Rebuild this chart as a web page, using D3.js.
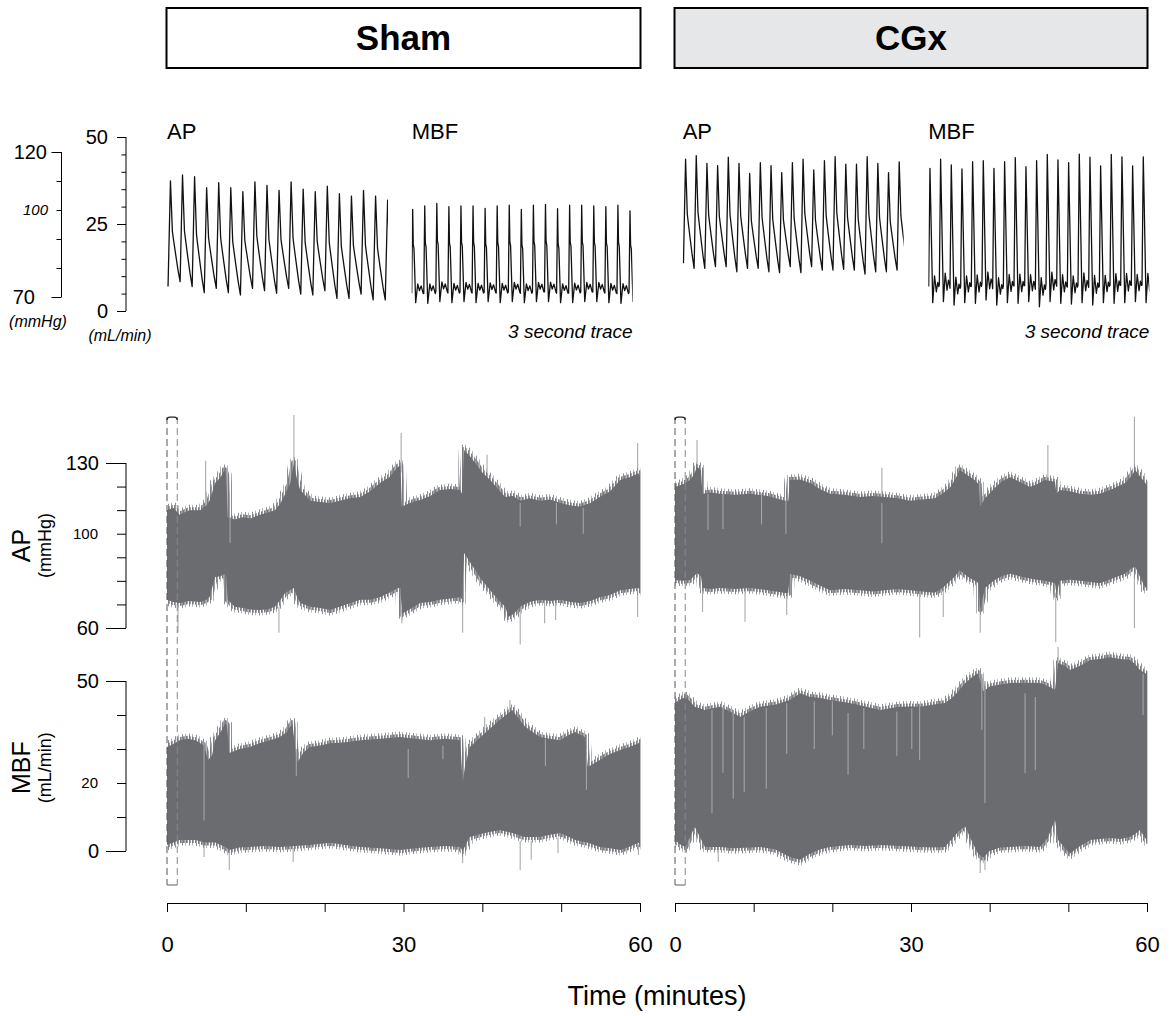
<!DOCTYPE html>
<html>
<head>
<meta charset="utf-8">
<script src="https://cdn.jsdelivr.net/npm/d3@7"></script>
<style>
  body { margin: 0; background: #fff; }
  svg { display: block; }
  text { font-family: "Liberation Sans", Arial, Helvetica, sans-serif; fill: #000; }
</style>
</head>
<body>
<svg id="chart"></svg>
<script>
const width = 1174;
const height = 1016;

// ---- 3 second traces: per-beat values ----
const shamApPeaks = [110.0, 112.1, 111.5, 107.7, 109.4, 107.7, 106.3, 109.7, 108.5, 106.8, 109.7, 107.2, 106.3, 108.2, 105.6, 104.8, 106.8, 104.8, 103.4];
const shamApTroughs = [73.6, 75.3, 73.6, 71.5, 73.0, 71.5, 70.7, 73.0, 72.2, 71.3, 73.0, 71.0, 70.7, 72.2, 69.5, 69.5, 71.0, 69.0, 69.0];
const shamMbfPeaks = [29.2, 30.2, 30.9, 30.0, 30.2, 30.2, 29.5, 30.2, 30.4, 29.2, 30.4, 30.6, 29.4, 30.4, 30.4, 30.2, 30.0, 30.4, 28.8];
const shamMbfMins = [2.4, 2.2, 2.7, 2.4, 2.7, 2.4, 2.7, 2.4, 2.7, 2.4, 2.7, 2.7, 2.4, 2.4, 2.7, 2.7, 2.4, 2.2, 2.7];
const cgxApPeaks = [117.5, 118.7, 116.1, 115.3, 118.2, 116.1, 112.6, 116.3, 115.3, 112.9, 116.3, 117.5, 113.8, 117.0, 118.4, 115.8, 115.8, 118.4, 116.1, 112.9, 116.6];
const cgxApTroughs = [81.6, 79.9, 79.9, 80.5, 80.5, 78.7, 79.9, 79.9, 78.7, 78.4, 80.5, 78.4, 80.5, 79.3, 79.3, 79.5, 79.3, 77.9, 78.7, 78.7, 79.3];
const cgxMbfPeaks = [41.0, 43.6, 42.0, 40.8, 42.9, 43.2, 41.0, 42.9, 44.1, 41.5, 43.2, 45.0, 43.4, 42.6, 45.1, 44.2, 41.7, 45.0, 44.3, 41.7, 44.3];
const cgxMbfMins = [2.4, 2.7, 1.7, 2.4, 2.2, 3.2, 1.7, 2.4, 2.2, 2.7, 1.2, 2.7, 2.2, 2.0, 2.4, 1.7, 2.4, 2.2, 2.4, 2.7, 2.4];

// beat shapes [phase, fraction of trough->peak]
const apBeatShape = [[0, 0], [0.2, 1], [0.27, 0.78], [0.36, 0.5], [0.45, 0.42], [0.62, 0.28], [0.82, 0.12]];
const shamMbfBeatShape = [[0, 0.1], [0.08, 1], [0.13, 0.62], [0.19, 0.58], [0.33, 0], [0.5, 0.2], [0.64, 0.13], [0.78, 0.18], [0.95, 0.1]];
const cgxMbfBeatShape = [[0, 0.12], [0.12, 1], [0.2, 0.7], [0.38, 0], [0.55, 0.2], [0.72, 0.08], [0.85, 0.15], [0.95, 0.12]];

// ---- 60 minute recordings: envelope breakpoints [minute, value] ----
const shamApHigh = [[0,110],[0.8,111],[1.6,108],[2.8,110],[4.2,110],[5.0,112],[5.4,114],[6.1,121.5],[6.8,124],[7.3,127],[7.5,125],[7.7,107],[8.6,106],[9.6,107],[10.6,106.5],[11.8,108],[12.8,109],[13.7,110],[14.4,113],[15.0,117],[15.6,121],[16.1,130],[16.5,123],[16.9,118.5],[18.2,114],[19.4,113.5],[20.7,113],[21.9,114],[23.2,115],[24.5,115.6],[25.8,118],[27.0,121.5],[28.2,124],[29.3,128.4],[29.6,129],[29.8,111.5],[30.8,113],[32.1,114.3],[33.4,116],[34.6,118.5],[36.0,119],[37.2,118.5],[37.4,117],[37.7,135.5],[38.4,133],[39.1,130],[40.0,126],[41.0,122.8],[42.0,119],[42.9,115.6],[43.9,116],[44.8,114],[46.0,115],[47.3,114],[48.6,114.5],[49.9,113],[51.2,112],[52.4,111.5],[53.7,113],[54.9,115.6],[56.2,118],[57.5,122.8],[58.7,124],[59.8,125.7],[60,124]];
const shamApLow = [[0,72],[0.8,71],[1.6,70.6],[2.8,71.5],[4.2,71],[5.0,72],[5.4,73],[6.1,81.6],[6.8,82],[7.3,83],[7.5,82],[7.7,72],[8.6,69],[9.6,68.5],[10.6,67.8],[11.8,67.6],[12.8,68],[13.7,69],[14.4,72],[15.0,75],[15.6,76],[16.1,77],[16.5,73],[16.9,70.6],[18.2,69],[19.4,68.5],[20.7,67.6],[21.9,69],[23.2,70.5],[24.5,72],[25.8,72],[27.0,73],[28.2,75],[29.3,77],[29.6,77],[29.8,66],[30.8,68],[32.1,70.6],[33.4,71],[34.6,72],[36.0,72.5],[37.2,73],[37.4,72],[37.7,91.8],[38.4,88],[39.1,84.6],[40.0,80],[41.0,76],[42.0,72],[42.9,69],[43.3,64.7],[44.0,66],[44.8,69],[46.0,71],[47.3,72],[48.6,71.5],[49.9,72],[51.2,71],[52.4,70.6],[53.7,71.5],[54.9,73],[56.2,74],[57.5,76],[58.7,76.5],[59.8,77],[60,76]];
const shamApStreaks = [[1.4,70,58],[4.9,112,131],[14.2,69,58],[16.1,128,150.4],[29.7,126,142.7],[29.8,68,62],[37.5,72,58],[40.6,124,133.5],[44.8,69,53],[47.9,71,62],[49.3,71,63.4],[59.7,124,138.5],[59.7,76,64.7],[8.0,107,96],[44.8,113,103],[49.4,113,104],[52.8,111,100]];

const shamMbfHigh = [[0,30.6],[0.8,31.5],[1.6,32.6],[2.6,33],[3.6,32.6],[4.7,31],[5.2,26.8],[5.7,28],[6.1,32.6],[6.8,35],[7.4,37.6],[7.6,37],[7.9,28.8],[9.2,30],[10.5,30.6],[11.8,31.8],[13.1,32.6],[14.3,33.5],[15.2,35],[15.9,37.6],[16.5,25.9],[17.3,29],[18.1,30.6],[19.4,31],[20.7,31.7],[22.6,32],[24.5,32.6],[27.0,33],[29.6,33.5],[31.5,33],[33.4,32.6],[35.3,33],[37.2,32.6],[37.5,20],[37.8,25],[38.4,30.6],[39.3,32.5],[40.3,34.6],[41.2,36.5],[42.2,38.5],[43.0,40],[43.8,41.5],[44.6,39],[45.4,36.6],[46.4,35],[47.3,33.5],[48.6,33],[49.9,32.6],[50.8,34],[51.8,35],[53.0,33.5],[53.4,24.7],[54.9,26.8],[56.2,28.5],[57.5,29.7],[58.6,30.5],[59.8,31.7],[60,32]];
const shamMbfLow = [[0,1.8],[1.6,3.2],[3.6,3.2],[4.8,2.5],[6.1,2.5],[7.4,1.2],[7.9,0.3],[9.2,1],[10.5,1.2],[12.4,1.5],[14.3,1.2],[16.2,1.5],[18.1,1.8],[20.7,2.4],[22.6,1.8],[24.5,1.2],[27.0,0.8],[29.6,0.3],[31.5,0.8],[33.4,1.2],[35.3,1.5],[37.2,1.2],[37.5,0],[38.4,4.1],[40.3,5.3],[42.2,6.2],[43.8,5.3],[45.4,4.1],[47.3,4.1],[48.6,4.8],[49.9,5.3],[51.8,3.2],[53.4,2.4],[54.9,1.2],[56.2,0.8],[57.5,0.3],[58.6,1.2],[59.8,2.4],[60,2]];
const shamMbfStreaks = [[4.7,3,-1.8],[7.9,0,-5.6],[16.0,1,-3.2],[37.5,0,-3.5],[44.8,3,-5.6],[46.2,3,-2.6],[49.6,4,-0.6],[59.8,2,-1.2],[43.5,40,44.4],[40.3,33,39.4],[4.7,32,9],[16.4,30,22],[30.6,30,21.5],[35.0,31,27],[48.0,33,25],[53.2,30,18]];

const cgxApHigh = [[0,119.8],[1.0,121],[1.9,122.8],[2.4,125],[2.8,128.4],[3.3,127],[3.5,117],[4.6,117.5],[5.7,117],[7.6,116.5],[9.5,117],[11.8,116],[14.0,114],[14.4,114],[14.6,122.8],[15.9,123],[17.2,121.5],[18.4,119],[19.7,117],[21.6,116.5],[23.5,115.6],[25.1,116],[26.7,115.6],[28.3,115],[29.9,114],[31.4,114.5],[33.0,115],[34.0,117],[35.0,119.8],[35.6,123],[36.2,127],[37.1,125],[38.1,122.8],[38.6,121],[38.8,111.5],[39.4,115],[40.5,119],[41.5,122],[42.6,124],[43.8,122],[45.1,119.8],[46.0,121],[47.0,122.8],[48.3,122],[48.5,117],[48.9,118.5],[50.2,118],[51.5,117],[52.8,116.5],[54.0,117],[55.6,119],[57.2,121.5],[57.9,124],[58.5,127],[59.2,124],[59.8,121.5],[60,120]];
const cgxApLow = [[0,80.4],[1.0,80],[1.9,80.4],[2.4,82],[2.8,83.3],[3.3,82],[3.5,77],[4.6,76.5],[5.7,77],[7.6,76.5],[9.5,77],[11.8,76],[14.0,74.8],[14.4,74.8],[14.6,83],[15.9,82],[17.2,80],[18.4,78],[19.7,76],[21.6,76.5],[23.5,76],[25.1,75.5],[26.7,76],[28.3,76.5],[29.9,76],[31.4,75.5],[33.0,75],[34.0,77],[35.0,80],[35.6,82],[36.2,84.6],[37.1,82],[38.1,80],[38.6,79],[38.8,68],[39.4,77],[40.5,80],[41.5,82],[42.6,83],[43.8,82],[45.1,81],[46.0,80.5],[47.0,80],[48.3,79],[48.5,74],[48.9,80],[50.2,80.5],[51.5,80],[52.8,79.5],[54.0,79],[55.6,81],[57.2,83],[57.9,85],[58.5,86],[59.2,81],[59.8,77],[60,78]];
const cgxApStreaks = [[2.8,128,139.8],[3.5,77,66.8],[8.9,77,62.6],[14.2,74,65.5],[26.3,115,128],[31.1,76,56],[34.1,76,64.7],[38.8,68,58],[47.4,122,137.6],[48.4,75,54],[58.4,127,149.6],[58.4,84,60],[4.2,117,101.6],[6.1,117,102],[11.0,117,104],[14.1,114,100],[26.3,113,96]];

const cgxMbfHigh = [[0,43.5],[0.6,44.5],[1.3,45.3],[1.9,44],[2.5,42.4],[3.8,41.5],[4.8,42],[5.7,42.4],[7.0,41],[8.3,39.5],[9.5,41],[10.8,42.4],[12.7,43],[14.6,44.4],[15.9,46.4],[17.2,45.3],[18.5,45],[19.7,44.4],[21.0,44],[22.2,43.5],[24.2,42.5],[26.1,41.5],[27.3,42],[28.6,42.4],[29.8,42.5],[31.1,42.4],[32.7,43],[34.3,43.5],[35.2,45],[36.2,47.4],[36.9,49.4],[37.7,51],[38.5,52.3],[39.2,47],[40.0,48.4],[41.3,49],[42.6,49.4],[44.5,49.5],[46.4,49.4],[47.4,48.5],[48.3,47.4],[48.7,55.3],[49.5,54.5],[50.2,53.2],[51.5,54.5],[52.8,56.2],[54.0,56.5],[55.3,57],[56.6,56.5],[57.8,56.2],[58.5,55],[59.1,53.2],[60,52]];
const cgxMbfLow = [[0,3.2],[0.6,2],[1.3,1.2],[1.9,4],[2.5,7.1],[3.2,4],[3.8,1.2],[5.7,1.2],[7.6,0.8],[9.5,1],[10.8,1.2],[12.7,0.5],[14.6,-1.8],[15.9,-2.6],[17.2,-0.7],[18.5,0.5],[19.7,1.2],[21.0,1.5],[22.2,1.8],[24.2,1.5],[26.1,1.8],[28.6,1.5],[31.1,1.2],[32.7,1],[34.3,1.2],[35.2,3.5],[36.2,6.2],[36.9,7.1],[37.7,3],[38.5,-0.7],[39.2,-2],[40.0,0],[41.3,1],[42.6,1.2],[44.5,1.5],[46.4,1.2],[47.4,4],[48.3,9.1],[48.7,3.2],[49.5,1],[50.2,-0.7],[51.5,1.5],[52.8,3.2],[54.0,3.5],[55.3,3.8],[56.6,3.5],[57.8,4.1],[58.5,5],[59.1,6.2],[60,3]];
const cgxMbfStreaks = [[38.8,-1,-6.5],[39.4,-1,-5.6],[5.5,1,-3.2],[48.7,55,60],[4.7,41.5,11.2],[6.1,42.4,23],[7.4,41.5,15.4],[8.8,39.5,17.4],[11.6,42,18.3],[14.2,43.5,28.6],[17.7,44,30],[20.0,44,34],[22.0,40.6,22.4],[24.0,42,30],[28.2,41,28],[30.1,42,30],[31.1,42.4,26.8],[39.0,52,35.6],[39.4,50,14.1],[44.5,46.4,22.9],[45.8,45.3,23.8],[59.5,52,40]];

// axis ticks
const timeTicks = [0, 10, 20, 30, 40, 50, 60];
const timeLabels = [0, 30, 60];
const apTicks = [60, 70, 80, 90, 100, 110, 120, 130];
const apMajor = [60, 130];
const mbfTicks = [0, 10, 20, 30, 40, 50];
const mbfMajor = [0, 50];
const topApTicks = [70, 80, 90, 100, 110, 120];
const topApMajor = [70, 120];
const topMbfTicks = [0, 5, 10, 15, 20, 25, 30, 35, 40, 45, 50];
const topMbfMajor = [0, 25, 50];
const markerMinutes = [0, 1.3];
const markerApTop = 149.5;
const markerMbfBottom = -10;

const svg = d3.select("#chart").attr("width", width).attr("height", height);

// scales
const yAP = d3.scaleLinear().domain([60, 130]).range([628, 463]);
const yMBF = d3.scaleLinear().domain([0, 50]).range([851, 681]);
const yTopAP = d3.scaleLinear().domain([70, 120]).range([297, 152]);
const yTopMBF = d3.scaleLinear().domain([0, 50]).range([311, 137]);

const panels = [
  { title: "Sham", fill: "#fff", x: d3.scaleLinear().domain([0, 60]).range([167, 640]),
    apHigh: shamApHigh, apLow: shamApLow, apStreaks: shamApStreaks,
    mbfHigh: shamMbfHigh, mbfLow: shamMbfLow, mbfStreaks: shamMbfStreaks,
    apTrace: { x0: 167, peaks: shamApPeaks, troughs: shamApTroughs, t0: 0.014, period: 0.1638, shape: apBeatShape, peakPhase: 0.2 },
    mbfTrace: { x0: 411.7, peaks: shamMbfPeaks, troughs: shamMbfMins, t0: 0, period: 0.1639, shape: shamMbfBeatShape, peakPhase: 1 } },
  { title: "CGx", fill: "#e6e7e8", x: d3.scaleLinear().domain([0, 60]).range([675, 1147]),
    apHigh: cgxApHigh, apLow: cgxApLow, apStreaks: cgxApStreaks,
    mbfHigh: cgxMbfHigh, mbfLow: cgxMbfLow, mbfStreaks: cgxMbfStreaks,
    apTrace: { x0: 682.7, peaks: cgxApPeaks, troughs: cgxApTroughs, t0: 0.01, period: 0.145, shape: apBeatShape, peakPhase: 0.2 },
    mbfTrace: { x0: 928.3, peaks: cgxMbfPeaks, troughs: cgxMbfMins, t0: 0.005, period: 0.1448, shape: cgxMbfBeatShape, peakPhase: 1 } }
];

const bandColor = "#6b6c70";
const fuzzColor = "#a9aaac";

// hair-like texture used on the band edges
const defs = svg.append("defs");
const hairs = [
  { id: "hairLong", w: 7, stripes: [[0, "#8d8e91"], [3, "#b3b4b6"]] },
  { id: "hairShort", w: 3, stripes: [[0, "#7b7c80"], [1, "#9fa0a3"]] }
];
hairs.forEach(h => {
  const pat = defs.append("pattern").attr("id", h.id).attr("patternUnits", "userSpaceOnUse")
    .attr("width", h.w).attr("height", 10);
  h.stripes.forEach(([x, c]) => pat.append("rect").attr("x", x).attr("y", 0)
    .attr("width", 1).attr("height", 10).attr("fill", c));
});

// build beat-by-beat waveform from the per-beat values
function beatPoints(tr) {
  const pts = [];
  tr.peaks.forEach((pk, i) => {
    tr.shape.forEach(([ph, f]) => {
      const next = tr.troughs[i + 1] !== undefined ? tr.troughs[i + 1] : tr.troughs[i];
      const base = ph <= tr.peakPhase ? tr.troughs[i] : next;
      pts.push([tr.t0 + (i + ph) * tr.period, base + f * (pk - base)]);
    });
  });
  return pts;
}

let clipId = 0;
function clipRect(x, y, w, h) {
  const id = "clip" + (clipId++);
  defs.append("clipPath").attr("id", id).append("rect")
    .attr("x", x).attr("y", y).attr("width", w).attr("height", h);
  return `url(#${id})`;
}

function drawTrace(tr, yScale) {
  const xs = d3.scaleLinear().domain([0, 3]).range([tr.x0, tr.x0 + 221]);
  const line = d3.line().x(d => xs(d[0])).y(d => yScale(d[1]));
  svg.append("path")
    .attr("clip-path", clipRect(xs(0), 100, xs(3) - xs(0), 240))
    .attr("d", line(beatPoints(tr)))
    .attr("fill", "none")
    .attr("stroke", "#111")
    .attr("stroke-width", 1.3)
    .attr("stroke-linejoin", "round");
}

function drawBand(xs, ys, high, low, streaks) {
  const line = d3.line().x(d => xs(d[0])).y(d => ys(d[1]));
  const d = line(high.concat(low.slice().reverse())) + "Z";
  const hi = d3.max(high, p => p[1]), lo = d3.min(low, p => p[1]);
  const [x0, x1] = xs.range();
  const g = svg.append("g").attr("clip-path", clipRect(x0, 380, x1 - x0 + 0.5, 520));
  g.selectAll("line.streak").data(streaks).enter().append("line")
    .attr("class", "streak")
    .attr("x1", s => xs(s[0])).attr("x2", s => xs(s[0]))
    .attr("y1", s => ys(s[1])).attr("y2", s => ys(s[2]))
    .attr("stroke", fuzzColor).attr("stroke-width", 1.1);
  g.append("path").attr("d", d).attr("fill", "none")
    .attr("stroke", "url(#hairLong)").attr("stroke-width", 11).attr("stroke-linejoin", "round");
  g.append("path").attr("d", d).attr("fill", "none")
    .attr("stroke", "url(#hairShort)").attr("stroke-width", 6).attr("stroke-linejoin", "round");
  g.append("path").attr("d", d).attr("fill", bandColor);
  // light streaks that cut into the band from its top edge
  g.selectAll("line.inner").data(streaks.filter(s => s[2] < hi && s[2] > lo && s[1] > s[2] && s[1] > (lo + hi) / 2))
    .enter().append("line")
    .attr("class", "inner")
    .attr("x1", s => xs(s[0])).attr("x2", s => xs(s[0]))
    .attr("y1", s => ys(s[1])).attr("y2", s => ys(s[2]))
    .attr("stroke", fuzzColor).attr("stroke-width", 1);
}

panels.forEach(p => {
  const [x0, x1] = p.x.range();

  // header box
  svg.append("rect").attr("x", x0 - 0.5).attr("y", 8).attr("width", x1 - x0 + 1).attr("height", 60)
    .attr("fill", p.fill).attr("stroke", "#000").attr("stroke-width", 2);
  svg.append("text").attr("x", (x0 + x1) / 2).attr("y", 50)
    .attr("text-anchor", "middle").style("font-size", "35px").style("font-weight", "bold")
    .text(p.title);

  // 3 second traces
  drawTrace(p.apTrace, yTopAP);
  drawTrace(p.mbfTrace, yTopMBF);
  svg.append("text").attr("x", p.apTrace.x0).attr("y", 139).style("font-size", "22px").text("AP");
  svg.append("text").attr("x", p.mbfTrace.x0).attr("y", 139).style("font-size", "22px").text("MBF");
  svg.append("text").attr("x", p.mbfTrace.x0 + 221).attr("y", 338).attr("text-anchor", "end")
    .style("font-size", "19px").style("font-style", "italic").text("3 second trace");

  // 60 minute bands
  drawBand(p.x, yAP, p.apHigh, p.apLow, p.apStreaks);
  drawBand(p.x, yMBF, p.mbfHigh, p.mbfLow, p.mbfStreaks);

  // marker of the zoomed window
  const mx0 = p.x(markerMinutes[0]), mx1 = p.x(markerMinutes[1]);
  const my0 = yAP(markerApTop), my1 = yMBF(markerMbfBottom);
  svg.append("line").attr("x1", mx0).attr("x2", mx0).attr("y1", my0).attr("y2", my1)
    .attr("stroke", "#555").attr("stroke-width", 1).attr("stroke-dasharray", "7,4");
  svg.append("line").attr("x1", mx1).attr("x2", mx1).attr("y1", my0).attr("y2", my1)
    .attr("stroke", "#888").attr("stroke-width", 1).attr("stroke-dasharray", "7,4");
  svg.append("path").attr("d", `M${mx0},${my0 + 3}Q${mx0},${my0} ${mx0 + 3},${my0}L${mx1 - 3},${my0}Q${mx1},${my0} ${mx1},${my0 + 3}`)
    .attr("fill", "none").attr("stroke", "#222").attr("stroke-width", 1.3);
  svg.append("line").attr("x1", mx0).attr("x2", mx1).attr("y1", my1).attr("y2", my1)
    .attr("stroke", "#777").attr("stroke-width", 1.2);

  // time axis
  const xAxis = d3.axisBottom(p.x).tickValues(timeTicks).tickSize(9).tickSizeOuter(0)
    .tickPadding(24).tickFormat(d => timeLabels.includes(d) ? d : "");
  const gx = svg.append("g").attr("transform", "translate(0,903)").call(xAxis);
  gx.attr("font-family", null).attr("font-size", null);
  gx.selectAll("text").style("font-size", "22px");
});

// ---- y axes ----
function yAxis(scale, x, ticks, major, minorLen, majorLen) {
  const g = svg.append("g").attr("transform", `translate(${x},0)`);
  g.call(d3.axisLeft(scale).tickValues(ticks).tickSize(minorLen).tickSizeOuter(0).tickFormat(""));
  g.selectAll(".tick line").filter(d => major.includes(d)).attr("x2", -majorLen);
  g.selectAll("path.domain").attr("d", `M0,${scale(d3.min(ticks))}V${scale(d3.max(ticks))}`);
  return g;
}
function label(x, y, txt, size, italic, anchor) {
  svg.append("text").attr("x", x).attr("y", y).attr("dy", "0.35em")
    .attr("text-anchor", anchor || "end")
    .style("font-size", size + "px").style("font-style", italic ? "italic" : "normal")
    .text(txt);
}

// top-left axes
yAxis(yTopAP, 61.5, topApTicks, topApMajor, 5, 10);
label(47, yTopAP(120), "120", 20);
label(48, yTopAP(100), "100", 15, true);
label(35, yTopAP(70), "70", 20);
label(38, 321, "(mmHg)", 16, true, "middle");

yAxis(yTopMBF, 126, topMbfTicks, topMbfMajor, 4.5, 9);
topMbfMajor.forEach(v => label(108, yTopMBF(v), v, 20));
label(120, 335, "(mL/min)", 16, true, "middle");

// long AP axis
yAxis(yAP, 126, apTicks, apMajor, 9, 20);
apMajor.forEach(v => label(99, yAP(v), v, 20));
label(98, yAP(100), "100", 15);
svg.append("text").attr("transform", `translate(30,${(yAP(60) + yAP(130)) / 2}) rotate(-90)`)
  .attr("text-anchor", "middle").style("font-size", "25px").text("AP");
svg.append("text").attr("transform", `translate(51,${(yAP(60) + yAP(130)) / 2}) rotate(-90)`)
  .attr("text-anchor", "middle").style("font-size", "18px").text("(mmHg)");

// long MBF axis
yAxis(yMBF, 126, mbfTicks, mbfMajor, 9, 20);
mbfMajor.forEach(v => label(99, yMBF(v), v, 20));
label(98, yMBF(20), "20", 15);
svg.append("text").attr("transform", `translate(30,${yMBF(24.5)}) rotate(-90)`)
  .attr("text-anchor", "middle").style("font-size", "25px").text("MBF");
svg.append("text").attr("transform", `translate(51,${yMBF(24.5)}) rotate(-90)`)
  .attr("text-anchor", "middle").style("font-size", "18px").text("(mL/min)");

// shared x title
svg.append("text").attr("x", 657).attr("y", 1005).attr("text-anchor", "middle")
  .style("font-size", "27px").text("Time (minutes)");

svg.selectAll(".tick line, path.domain").attr("stroke", "#000").attr("stroke-width", 1);
</script>
</body>
</html>
